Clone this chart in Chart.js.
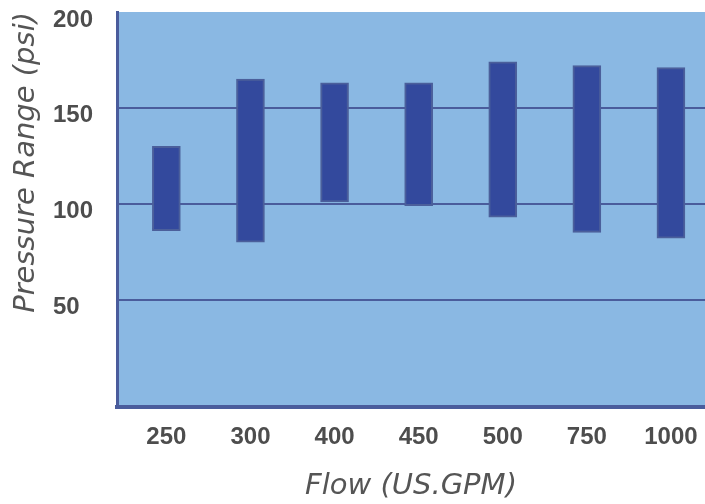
<!DOCTYPE html>
<html>
<head>
<meta charset="utf-8">
<script src="https://cdn.jsdelivr.net/npm/chart.js@4"></script>
<style>
  html, body { margin: 0; padding: 0; background: #ffffff; }
  .chart-container { position: relative; width: 705px; height: 504px; }
</style>
</head>
<body>
<div class="chart-container"><canvas id="chart"></canvas></div>
<script>
// flow categories (US.GPM)
var categories = ['250', '300', '400', '450', '500', '750', '1000'];
// pressure range per flow (psi)
var lowPressure = [86, 80, 101, 99, 93, 85, 82];
var highPressure = [130, 165, 163, 163, 174, 172, 171];
var yTicks = [50, 100, 150, 200];

var axisColor = '#4a5c9c';
var textColor = '#4d4d4d';

var ranges = categories.map(function (c, i) {
  return { x: i, y: [lowPressure[i], highPressure[i]] };
});

// light blue plot background
var plotBackground = {
  id: 'plotBackground',
  beforeDraw: function (chart) {
    var a = chart.chartArea, ctx = chart.ctx;
    ctx.save();
    ctx.fillStyle = '#8ab8e3';
    ctx.fillRect(a.left, a.top, a.right - a.left, a.bottom - a.top);
    ctx.restore();
  }
};

var ctx = document.getElementById('chart').getContext('2d');
new Chart(ctx, {
  type: 'bar',
  data: {
    datasets: [{
      data: ranges,
      backgroundColor: '#33499d',
      borderColor: '#4b5f9b',
      borderWidth: 2,
      borderSkipped: false,
      barThickness: 28
    }]
  },
  plugins: [plotBackground],
  options: {
    responsive: true,
    maintainAspectRatio: false,
    animation: false,
    layout: { padding: { top: 12, right: 0, bottom: 0, left: 53 } },
    plugins: {
      legend: { display: false },
      tooltip: { enabled: false }
    },
    scales: {
      x: {
        type: 'linear',
        offset: false,
        min: -0.587,
        max: 6.405,
        afterBuildTicks: function (scale) {
          scale.ticks = categories.map(function (c, i) { return { value: i }; });
        },
        afterFit: function (scale) {
          scale.height = 97;
          scale.paddingLeft = 0;
          scale.paddingRight = 0;
        },
        grid: { display: false, drawTicks: false },
        border: { color: axisColor, width: 4 },
        ticks: {
          padding: 16,
          autoSkip: false,
          maxRotation: 0,
          color: textColor,
          font: { family: '"Liberation Sans", Arial, sans-serif', size: 24, weight: 'bold' },
          callback: function (v) { return categories[v]; }
        },
        title: {
          display: true,
          text: 'Flow (US.GPM)',
          color: '#555555',
          padding: { top: 0, bottom: 0 },
          font: { family: '"DejaVu Sans", sans-serif', size: 29, style: 'italic' }
        }
      },
      y: {
        min: -6,
        max: 200,
        afterBuildTicks: function (scale) {
          scale.ticks = yTicks.map(function (v) { return { value: v }; });
        },
        afterFit: function (scale) {
          scale.width = 64;
          scale.paddingTop = 0;
          scale.paddingBottom = 0;
        },
        grid: {
          drawTicks: false,
          lineWidth: 2,
          color: function (c) { return c.tick && c.tick.value === 200 ? 'rgba(0,0,0,0)' : axisColor; }
        },
        border: { color: axisColor, width: 3 },
        ticks: {
          crossAlign: 'far',
          padding: 0,
          labelOffset: 8,
          color: textColor,
          font: { family: '"Liberation Sans", Arial, sans-serif', size: 24, weight: 'bold' }
        },
        title: {
          display: true,
          text: 'Pressure Range (psi)',
          align: 'end',
          color: '#555555',
          padding: { top: -44, bottom: 0 },
          font: { family: '"DejaVu Sans", sans-serif', size: 29, style: 'italic' }
        }
      }
    }
  }
});
</script>
</body>
</html>
